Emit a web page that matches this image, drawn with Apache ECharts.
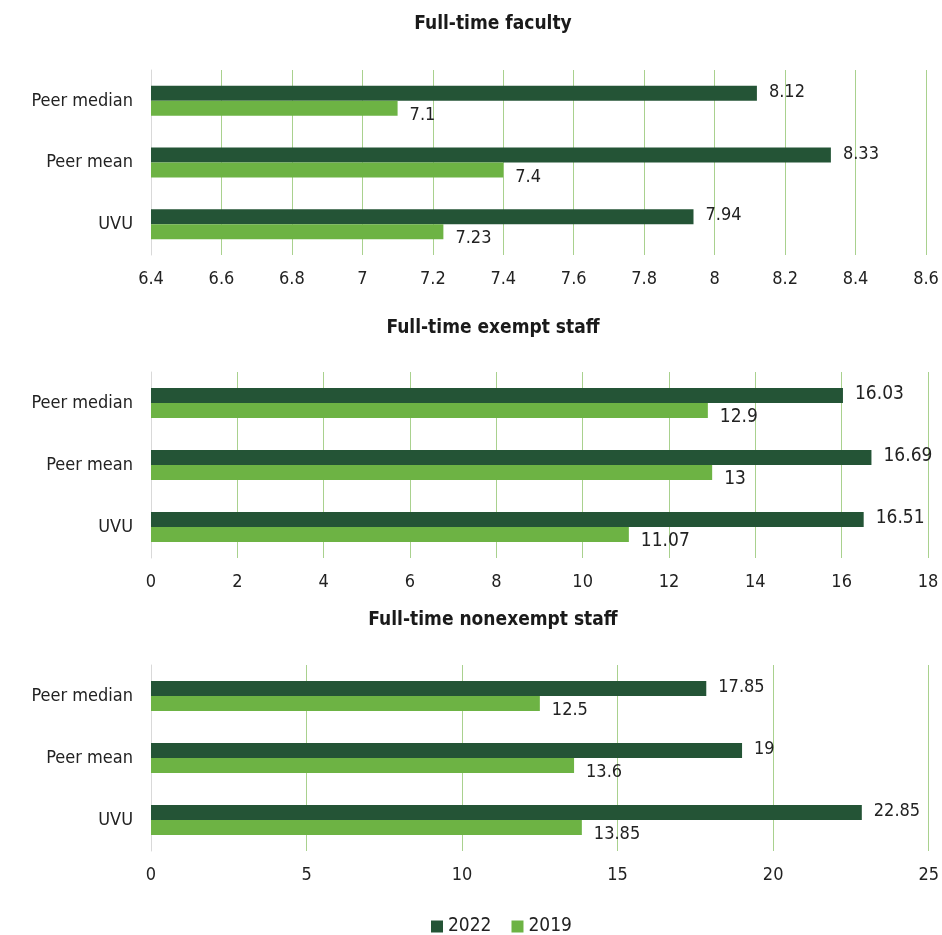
<!DOCTYPE html>
<html><head><meta charset="utf-8">
<script src="https://cdn.jsdelivr.net/npm/echarts@6/dist/echarts.min.js"></script>
<style>html,body{margin:0;padding:0;background:#fff}#c{width:942px;height:935px}</style>
</head><body><div id="c"></div>
<script>
const categories = ['UVU', 'Peer mean', 'Peer median'];
const titles = ['Full-time faculty', 'Full-time exempt staff', 'Full-time nonexempt staff'];
const faculty2022 = [7.94, 8.33, 8.12];
const faculty2019 = [7.23, 7.4, 7.1];
const exempt2022 = [16.51, 16.69, 16.03];
const exempt2019 = [11.07, 13, 12.9];
const nonexempt2022 = [22.85, 19, 17.85];
const nonexempt2019 = [13.85, 13.6, 12.5];
const axisRanges = [[6.4, 8.6, 0.2], [0, 18, 2], [0, 25, 5]];

const FONT = '"Liberation Sans Narrow", "DejaVu Sans Condensed", "Roboto", sans-serif';
const DARK = '#245436', LIGHT = '#6db344';
const grids = [
  {left: 151, right: 16, top: 70, height: 185},
  {left: 151, right: 14, top: 372, height: 186},
  {left: 151, right: 12, top: 665, height: 186}
];
const titleTops = [10, 314, 606];
const labelSizes = [18, 19, 18];
const d2022 = [faculty2022, exempt2022, nonexempt2022];
const d2019 = [faculty2019, exempt2019, nonexempt2019];

const option = {
  animation: false,
  textStyle: {fontFamily: FONT},
  title: titles.map((t, i) => ({
    text: t, left: 488, top: titleTops[i], textAlign: 'center',
    textStyle: {fontFamily: FONT, fontSize: 19, fontWeight: 'bold', color: '#1a1a1a'}
  })),
  legend: {
    data: ['2022', '2019'], top: 912, left: 426, itemWidth: 12, itemHeight: 12, itemGap: 20,
    icon: 'rect', textStyle: {fontFamily: FONT, fontSize: 19, color: '#222'}
  },
  grid: grids,
  xAxis: axisRanges.map((r, i) => ({
    type: 'value', gridIndex: i, min: r[0], max: r[1], interval: r[2],
    axisLine: {show: false}, axisTick: {show: false},
    axisLabel: {fontFamily: FONT, fontSize: 18, color: '#222', margin: 15,
      formatter: v => String(+v.toFixed(2))},
    splitLine: {show: true, lineStyle: {color: '#a9d18e', width: 1}}
  })),
  yAxis: axisRanges.map((r, i) => ({
    type: 'category', gridIndex: i, data: categories,
    axisLine: {show: true, lineStyle: {color: '#d9d9d9'}}, axisTick: {show: false},
    axisLabel: {fontFamily: FONT, fontSize: 18, color: '#222', margin: 18}
  })),
  series: []
};
for (let i = 0; i < 3; i++) {
  option.series.push({
    name: '2022', type: 'bar', xAxisIndex: i, yAxisIndex: i, data: d2022[i],
    barWidth: 15, barGap: '0%', itemStyle: {color: DARK},
    label: {show: true, position: 'right', distance: 12, offset: [0, -1],
      fontFamily: FONT, fontSize: labelSizes[i], color: '#222'}
  });
  option.series.push({
    name: '2019', type: 'bar', xAxisIndex: i, yAxisIndex: i, data: d2019[i],
    barWidth: 15, barGap: '0%', itemStyle: {color: LIGHT},
    label: {show: true, position: 'right', distance: 12, offset: [0, 7],
      fontFamily: FONT, fontSize: labelSizes[i], color: '#222'}
  });
}
const chart = echarts.init(document.getElementById('c'));
chart.setOption(option);
</script></body></html>
